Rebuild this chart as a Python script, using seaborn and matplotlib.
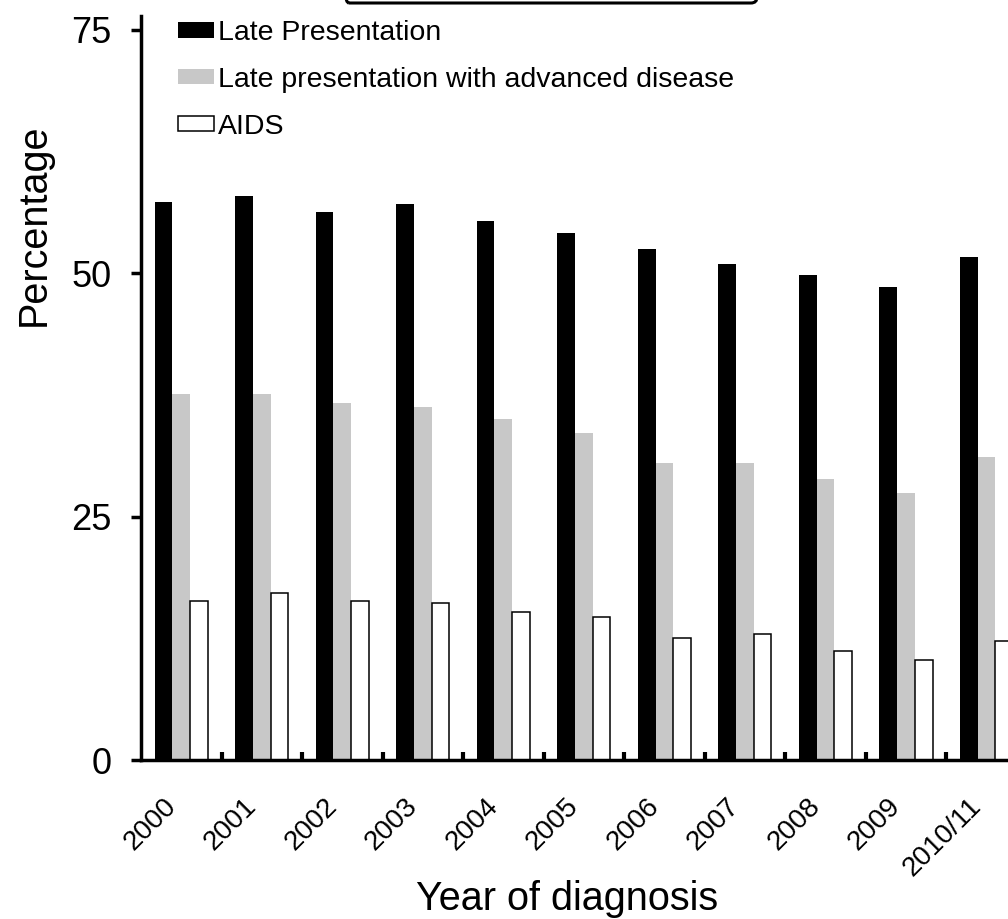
import matplotlib
matplotlib.use('Agg')
import matplotlib.pyplot as plt
import seaborn as sns
import pandas as pd
from matplotlib.patches import Patch, FancyBboxPatch
from matplotlib.ticker import FixedLocator

# ---- data ----
years = ['2000', '2001', '2002', '2003', '2004', '2005', '2006', '2007', '2008', '2009', '2010/11']
late_presentation = [57.3, 57.9, 56.3, 57.1, 55.4, 54.1, 52.5, 50.9, 49.8, 48.6, 51.7]
late_advanced = [37.6, 37.6, 36.7, 36.3, 35.0, 33.6, 30.5, 30.5, 28.9, 27.4, 31.1]
aids = [16.3, 17.2, 16.3, 16.1, 15.2, 14.7, 12.5, 12.9, 11.2, 10.3, 12.2]
series_names = ['Late Presentation', 'Late presentation with advanced disease', 'AIDS']
series_colors = ['#000000', '#c8c8c8', '#ffffff']
y_ticks = [0, 25, 50, 75]

rows = []
for name, vals in zip(series_names, [late_presentation, late_advanced, aids]):
    for yr, v in zip(years, vals):
        rows.append({'year': yr, 'value': v, 'series': name})
df = pd.DataFrame(rows)

sns.set_style('ticks')
plt.rcParams['font.family'] = ['Liberation Sans', 'DejaVu Sans']
plt.rcParams['text.color'] = 'black'
plt.rcParams['axes.labelcolor'] = 'black'
plt.rcParams['xtick.color'] = 'black'
plt.rcParams['ytick.color'] = 'black'

W, H = 1008, 919
fig = plt.figure(figsize=(W / 100, H / 100), dpi=100)
ax = fig.add_axes([141 / W, 1 - 760 / H, (W - 141) / W, (760 - 16) / H])

sns.barplot(data=df, x='year', y='value', hue='series', order=years,
            hue_order=series_names, palette=dict(zip(series_names, series_colors)),
            width=0.66, saturation=1, errorbar=None, legend=False, ax=ax,
            linewidth=0)

for p in ax.containers[2]:
    p.set_edgecolor('black')
    p.set_linewidth(1.1)

ax.set_xlim(-0.5, (W - 181.5) / 80.5)
ax.set_ylim(0, 76.4)
ax.set_yticks(y_ticks)
ax.set_yticklabels([str(t) for t in y_ticks])

sns.despine(ax=ax)
for s in ['left', 'bottom']:
    ax.spines[s].set_linewidth(2.5)
    ax.spines[s].set_color('black')

ax.tick_params(axis='y', direction='out', length=7, width=2.5, pad=14,
               labelsize=26, colors='black')
ax.tick_params(axis='x', which='major', length=0, pad=24, labelsize=20,
               labelcolor='black')
ax.xaxis.set_minor_locator(FixedLocator([i + 0.5 for i in range(len(years) - 1)]))
ax.tick_params(axis='x', which='minor', direction='in', length=6, width=3,
               color='black')
plt.setp(ax.get_xticklabels(), rotation=45, ha='right')

ax.set_xlabel('Year of diagnosis', fontsize=28.5, color='black')
ax.set_ylabel('Percentage', fontsize=28.5, color='black')
ax.xaxis.set_label_coords((567.5 - 141) / (W - 141), (760 - 880) / 744)
ax.yaxis.set_label_coords((53 - 141) / (W - 141), (760 - 225) / 744)

handles = [Patch(facecolor='#000000', edgecolor='none'),
           Patch(facecolor='#c8c8c8', edgecolor='none'),
           Patch(facecolor='#ffffff', edgecolor='black', linewidth=1.1)]
leg = ax.legend(handles, series_names, loc='upper left',
                bbox_to_anchor=(178 / W, 1 - 20 / H), bbox_transform=fig.transFigure,
                frameon=False, fontsize=20.5, handlelength=1.26, handleheight=0.46,
                handletextpad=0.14, labelspacing=0.73, borderpad=0, borderaxespad=0)
for t in leg.get_texts():
    t.set_color('black')

box = FancyBboxPatch((3.43, 9.16), 4.14, 0.5,
                     boxstyle='round,pad=0,rounding_size=0.06',
                     transform=fig.dpi_scale_trans, fill=False,
                     edgecolor='black', linewidth=2.2, clip_on=False)
fig.add_artist(box)

fig.savefig('out.png', dpi=100)
